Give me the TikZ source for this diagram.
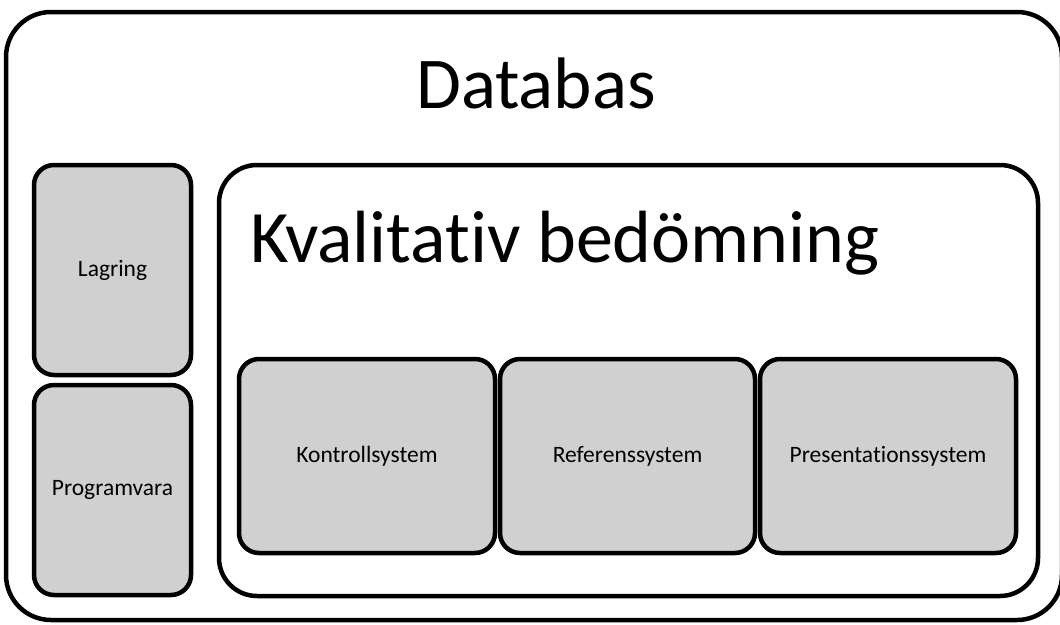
\documentclass[tikz,border=0pt]{standalone}
\usepackage{fontspec}
\setmainfont[Ligatures={NoCommon,NoDiscretionary,NoContextual}]{Carlito}
\definecolor{boxgray}{RGB}{208,208,208}
% keep "t" and "i" apart (no ti ligature)
\newcommand{\tisep}{t\kern0pt i}
\begin{document}
\begin{tikzpicture}[x=1pt,y=-1pt,
  frame/.style={draw, line width=4.5pt, inner sep=0pt},
  part/.style={draw, fill=boxgray, line width=4.5pt, rounded corners=20pt,
               inner sep=0pt, font=\fontsize{23.5}{28}\selectfont},
  bigtitle/.style={inner sep=0pt, font=\fontsize{73}{80}\selectfont}]
\useasboundingbox (0,0) rectangle (1060,624);

% outer container
\node[frame, rounded corners=45pt, minimum width=1056pt, minimum height=608pt]
  (db) at (534,316) {};
\node[bigtitle, anchor=base] (dbtitle) at (536,108) {Databas};

% left column
\node[part, minimum width=157pt, minimum height=210pt] (lagring) at (112.5,270) {Lagring};
\node[part, minimum width=157pt, minimum height=210pt] (program) at (112.5,490) {Programvara};

% inner container
\node[frame, rounded corners=38pt, minimum width=819pt, minimum height=431pt]
  (kval) at (628.5,380.5) {};
\node[bigtitle, font=\fontsize{74}{80}\selectfont, anchor=base west] (kvaltitle) at (250,262) {Kvalita\tisep v bedömning};

% three subsystems
\node[part, minimum width=256pt, minimum height=194pt] (kontroll) at (367,456) {Kontrollsystem};
\node[part, minimum width=255pt, minimum height=194pt] (referens) at (627.5,456) {Referenssystem};
\node[part, minimum width=256pt, minimum height=194pt] (present) at (888,456) {Presenta\tisep onssystem};
\end{tikzpicture}
\end{document}
